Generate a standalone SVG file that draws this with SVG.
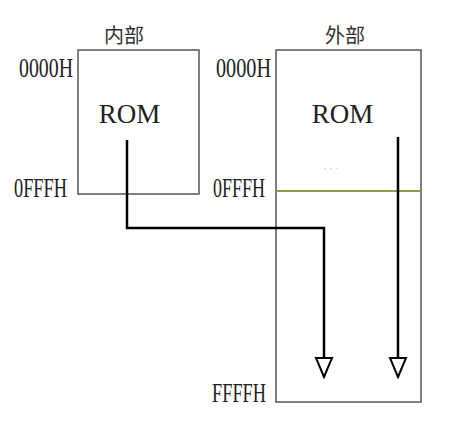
<svg xmlns="http://www.w3.org/2000/svg" width="449" height="422" viewBox="0 0 449 422">
<style>
.box{fill:none;stroke:#555;stroke-width:1.5}
.addr{font-family:"Liberation Serif",serif;font-size:28px;fill:#222}
.rom{font-family:"Liberation Serif",serif;font-size:27px;fill:#222;text-anchor:middle}
.cjk{font-family:"Noto Sans CJK SC",sans-serif;font-size:20px;fill:#333;text-anchor:middle}
.conn{fill:none;stroke:#000;stroke-width:2.5}
</style>
<defs>
<marker id="arr" viewBox="0 0 22 20" refX="20" refY="10" markerWidth="22" markerHeight="20" markerUnits="userSpaceOnUse" orient="auto">
<path d="M1,2 L1,18 L20,10 Z" fill="#fff" stroke="#000" stroke-width="2"/>
</marker>
</defs>
<g id="internal">
<rect class="box" x="78" y="50" width="121" height="144"/>
<text class="cjk" x="124" y="43">内部</text>
<text class="rom" x="129.5" y="123">ROM</text>
<text class="addr" x="19" y="77" textLength="54" lengthAdjust="spacingAndGlyphs">0000H</text>
<text class="addr" x="14" y="197" textLength="53" lengthAdjust="spacingAndGlyphs">0FFFH</text>
</g>
<g id="external">
<rect class="box" x="276" y="50" width="145" height="352"/>
<line x1="276" y1="191" x2="421" y2="191" stroke="#8aa050" stroke-width="2"/>
<text class="cjk" x="345" y="43">外部</text>
<text class="rom" x="342.5" y="123">ROM</text>
<text x="331" y="172" font-family="Liberation Sans,sans-serif" font-size="10" fill="#bbb" text-anchor="middle">· · ·</text>
<text class="addr" x="216" y="77" textLength="55" lengthAdjust="spacingAndGlyphs">0000H</text>
<text class="addr" x="213" y="197" textLength="52" lengthAdjust="spacingAndGlyphs">0FFFH</text>
<text class="addr" x="212" y="402" textLength="54" lengthAdjust="spacingAndGlyphs">FFFFH</text>
</g>
<g id="connectors">
<path class="conn" d="M127,140 V228 H324 V377" marker-end="url(#arr)"/>
<path class="conn" d="M398,137 V377" marker-end="url(#arr)"/>
</g>
</svg>
